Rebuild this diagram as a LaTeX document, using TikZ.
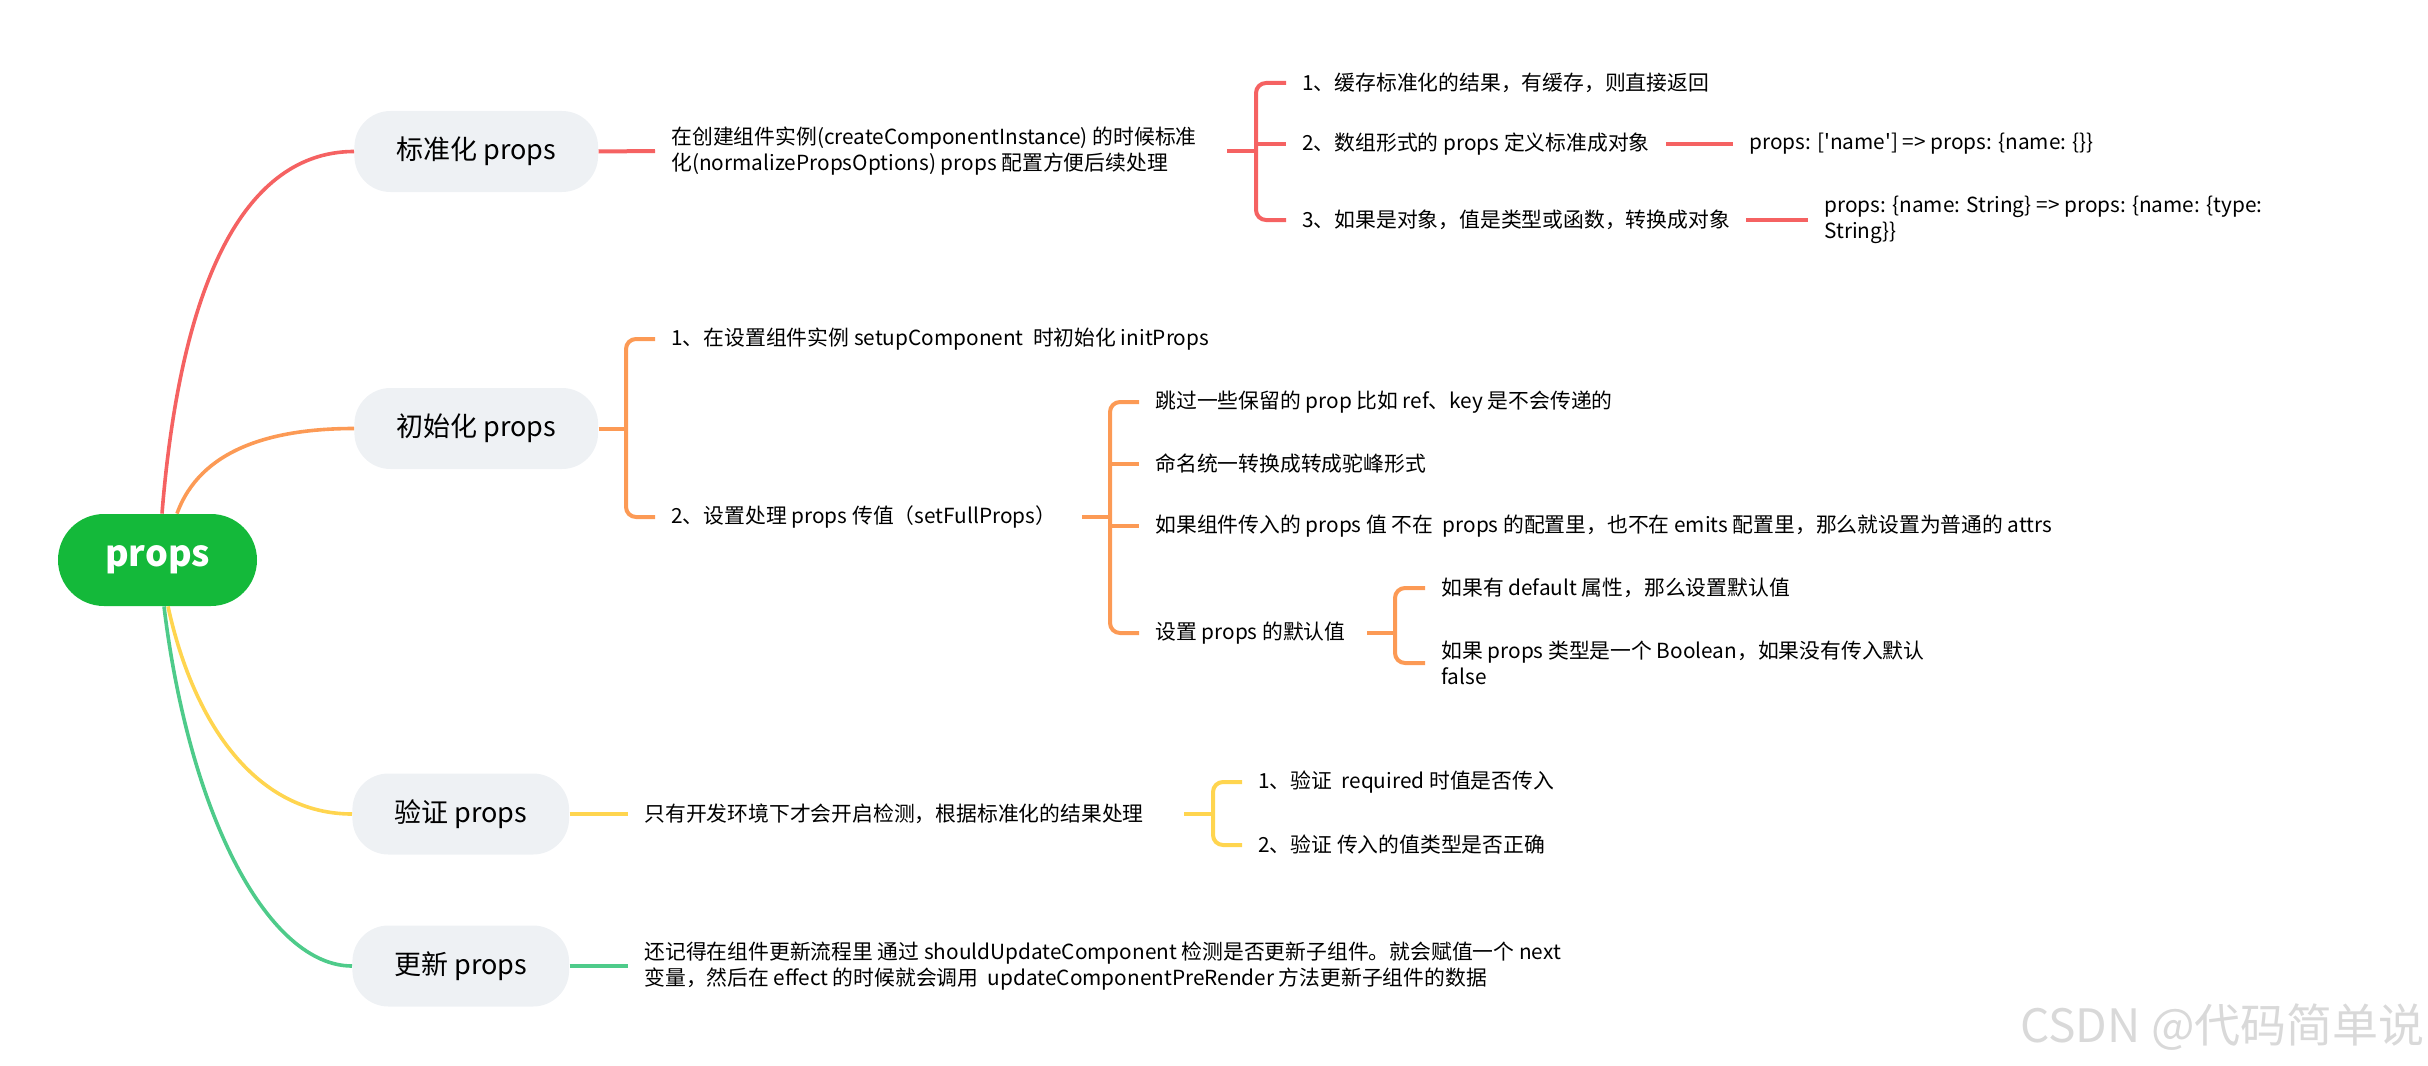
\documentclass[tikz,border=0pt]{standalone}
\usepackage{fontspec}
\setmainfont{Noto Sans CJK SC}
\usetikzlibrary{calc}
\definecolor{cred}{HTML}{F56262}
\definecolor{corange}{HTML}{FC9A55}
\definecolor{cyellow}{HTML}{FFD54F}
\definecolor{cgreen}{HTML}{4ECB8A}
\definecolor{rootgreen}{HTML}{14B93A}
\definecolor{nodegray}{HTML}{EEF1F4}
\begin{document}
\begin{tikzpicture}[x=0.5pt,y=-0.5pt,
  rootnode/.style={fill=rootgreen, text=white, font=\fontsize{18}{22}\selectfont\bfseries, minimum width=99.5pt, minimum height=46pt, rounded corners=23pt, inner sep=0pt},
  topic/.style={fill=nodegray, font=\fontsize{13.5}{16}\selectfont, minimum height=40.5pt, inner xsep=21pt, rounded corners=18pt, anchor=west},
  txt/.style={font=\fontsize{10.4}{13}\selectfont, inner sep=0pt, anchor=west, align=left},
  curve/.style={line width=1.8pt},
  stub/.style={line width=2pt},
  bracket/.style={line width=2pt, rounded corners=5pt}
]
\useasboundingbox (0,0) rectangle (2428,1065);

% root and topics
\node[rootnode] (root) at (157.5,560) {props};
\node[topic] (t1) at (354,151.5) {标准化 props};
\node[topic] (t2) at (354,428.5) {初始化 props};
\node[topic] (t3) at (352,814) {验证 props};
\node[topic] (t4) at (352,966) {更新 props};

\draw[cred, curve] ([xshift=2.25pt]root.north) .. controls (185,230) and (270,151.5) .. (t1.west);
\draw[corange, curve] ([xshift=9.75pt]root.north) .. controls (200,450) and (270,428.5) .. (t2.west);
\draw[cyellow, curve] ([xshift=5.25pt]root.south) .. controls (195,730) and (260,814) .. (t3.west);
\draw[cgreen, curve] ([xshift=3.25pt]root.south) .. controls (190,820) and (270,966) .. (t4.west);

% ---- 标准化 (red)
\node[txt] (d1) at (671,151) {在创建组件实例(createComponentInstance) 的时候标准\\化(normalizePropsOptions) props 配置方便后续处理};
\draw[cred, stub] (t1.east) -- ([xshift=-8pt]d1.west);
\coordinate (r0) at (1227,151);
\coordinate (rj) at (1256,151);
\node[txt] (k1) at (1302,83) {1、缓存标准化的结果，有缓存，则直接返回};
\node[txt] (k2) at (1302,144) {2、数组形式的 props 定义标准成对象};
\node[txt] (k3) at (1302,220) {3、如果是对象，值是类型或函数，转换成对象};
\draw[cred, stub] (r0) -- (rj);
\draw[cred, bracket] ([xshift=-8pt]k1.west) -| (rj) |- ([xshift=-8pt]k3.west);
\draw[cred, stub] (rj |- k2.west) -- ([xshift=-8pt]k2.west);
\node[txt] (m2) at (1749,144) {props: [\textquotesingle name\textquotesingle] => props: \{name: \{\}\}};
\draw[cred, stub] ([xshift=8pt]k2.east) -- ([xshift=-8pt]m2.west);
\node[txt] (m3) at (1824,220) {props: \{name: String\} => props: \{name: \{type:\\String\}\}};
\draw[cred, stub] ([xshift=8pt]k3.east) -- ([xshift=-8pt]m3.west);

% ---- 初始化 (orange)
\node[txt] (d2a) at (671,339) {1、在设置组件实例 setupComponent\ \ 时初始化 initProps};
\node[txt] (d2b) at (671,517) {2、设置处理 props 传值（setFullProps）};
\coordinate (oj1) at (626,428.5);
\draw[corange, stub] (t2.east) -- (oj1);
\draw[corange, bracket] ([xshift=-8pt]d2a.west) -| (oj1) |- ([xshift=-8pt]d2b.west);

\node[txt] (e1) at (1155,402) {跳过一些保留的 prop 比如 ref、key 是不会传递的};
\node[txt] (e2) at (1155,464) {命名统一转换成转成驼峰形式};
\node[txt] (e3) at (1155,526) {如果组件传入的 props 值 不在\ \ props 的配置里，也不在 emits 配置里，那么就设置为普通的 attrs};
\node[txt] (e4) at (1155,633) {设置 props 的默认值};
\coordinate (o2s) at (1082,517);
\coordinate (oj2) at (1110,517);
\draw[corange, stub] (o2s) -- (oj2);
\draw[corange, bracket] ([xshift=-8pt]e1.west) -| (oj2) |- ([xshift=-8pt]e4.west);
\draw[corange, stub] (oj2 |- e2.west) -- ([xshift=-8pt]e2.west);
\draw[corange, stub] (oj2 |- e3.west) -- ([xshift=-8pt]e3.west);

\node[txt] (f1) at (1441,588) {如果有 default 属性，那么设置默认值};
\node[txt] (f2) at (1441,663) {如果 props 类型是一个 Boolean，如果没有传入默认\\false};
\coordinate (o3s) at (1367,633);
\coordinate (oj3) at (1395,633);
\draw[corange, stub] (o3s) -- (oj3);
\draw[corange, bracket] ([xshift=-8pt]f1.west) -| (oj3) |- ([xshift=-8pt]f2.west);

% ---- 验证 (yellow)
\node[txt] (d3) at (644,814) {只有开发环境下才会开启检测，根据标准化的结果处理};
\draw[cyellow, stub] (t3.east) -- ([xshift=-8pt]d3.west);
\node[txt] (g1) at (1258,782) {1、验证\ \ required 时值是否传入};
\node[txt] (g2) at (1258,845) {2、验证 传入的值类型是否正确};
\coordinate (y0) at (1184,814);
\coordinate (yj) at (1213,814);
\draw[cyellow, stub] (y0) -- (yj);
\draw[cyellow, bracket] ([xshift=-8pt]g1.west) -| (yj) |- ([xshift=-8pt]g2.west);

% ---- 更新 (green)
\node[txt] (d4) at (644,966) {还记得在组件更新流程里 通过 shouldUpdateComponent 检测是否更新子组件。就会赋值一个 next\\变量，然后在 effect 的时候就会调用\ \ updateComponentPreRender 方法更新子组件的数据};
\draw[cgreen, stub] (t4.east) -- ([xshift=-8pt]d4.west);

% watermark
\node[font=\fontsize{23}{26}\selectfont, text=black!15, anchor=east, inner sep=0pt] (wm) at (2425,1027) {CSDN @代码简单说};
\end{tikzpicture}
\end{document}
